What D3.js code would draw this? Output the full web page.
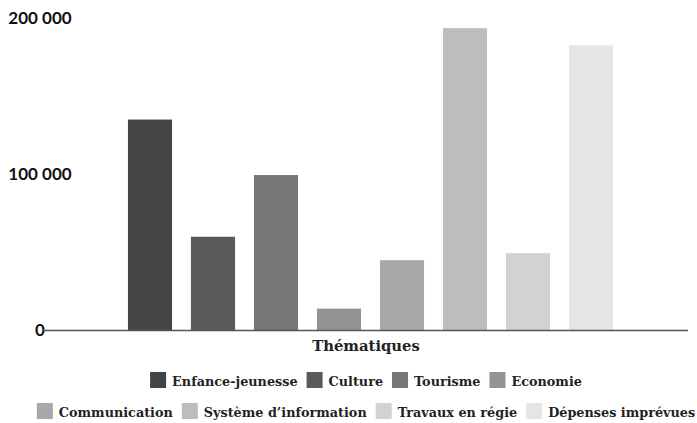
<!DOCTYPE html>
<html>
<head>
<meta charset="utf-8">
<script src="https://cdn.jsdelivr.net/npm/d3@7"></script>
<style>
  body { margin: 0; background: #fff; }
  .tick text { font-family: Lato, sans-serif; font-weight: 700; font-size: 17px; fill: #111; }
  .leg, .xtitle { font-family: "DejaVu Serif", serif; font-weight: 700; fill: #222; }
</style>
</head>
<body>
<script>
var categories = ["Enfance-jeunesse", "Culture", "Tourisme", "Economie",
                  "Communication", "Système d’information", "Travaux en régie", "Dépenses imprévues"];
var values = [135000, 60000, 99500, 14000, 45000, 193500, 49500, 182500];
var colors = ["#444446", "#59595b", "#767679", "#939396", "#a8a8ab", "#bcbdbf", "#d2d2d4", "#e4e5e7"];
var yTicks = [0, 100000, 200000];

var W = 697, H = 423;
var axisLeft = 43, axisRight = 688, legendCenter = 366;

var svg = d3.select("body").append("svg")
    .attr("width", W).attr("height", H);

var x = d3.scaleBand().domain(categories)
    .range([118.5, 622.5]).paddingInner(0.3).paddingOuter(0.15);
var y = d3.scaleLinear().domain([0, 200000]).range([330.5, 18]);

var fr = d3.formatLocale({decimal: ",", thousands: " ", grouping: [3], currency: ["", " €"]});
var fmt = fr.format(",d");

// y labels
var ya = svg.append("g")
    .attr("transform", "translate(40,0)")
    .call(d3.axisLeft(y).tickValues(yTicks).tickSize(0).tickFormat(fmt));
ya.select(".domain").remove();
ya.selectAll("text").attr("text-anchor", "middle").attr("x", 0);

// bars
svg.selectAll(".bar")
    .data(categories)
  .enter().append("rect")
    .attr("class", "bar")
    .attr("x", function(d) { return x(d); })
    .attr("width", x.bandwidth())
    .attr("y", function(d, i) { return y(values[i]); })
    .attr("height", function(d, i) { return y(0) - y(values[i]); })
    .attr("fill", function(d, i) { return colors[i]; });

// baseline
svg.append("line")
    .attr("x1", axisLeft).attr("x2", axisRight)
    .attr("y1", y(0)).attr("y2", y(0))
    .attr("stroke", "#555").attr("stroke-width", 1.5);

svg.append("text")
    .attr("class", "xtitle")
    .attr("x", legendCenter).attr("y", 351)
    .attr("text-anchor", "middle")
    .style("font-size", "14.8px")
    .text("Thématiques");

// legend, 2 rows of 4
var rows = [categories.slice(0, 4), categories.slice(4)];
var sq = 16, gapTxt = 6, gapItem = 9;
rows.forEach(function(row, r) {
  var g = svg.append("g");
  var cy = 380 + r * 31;
  var xpos = 0;
  row.forEach(function(name) {
    var i = categories.indexOf(name);
    g.append("rect")
        .attr("x", xpos).attr("y", cy - sq / 2)
        .attr("width", sq).attr("height", sq)
        .attr("fill", colors[i]);
    var t = g.append("text")
        .attr("class", "leg")
        .attr("x", xpos + sq + gapTxt).attr("y", cy + 5.5)
        .style("font-size", "12.8px")
        .text(name);
    xpos += sq + gapTxt + t.node().getComputedTextLength() + gapItem;
  });
  var total = xpos - gapItem;
  g.attr("transform", "translate(" + (legendCenter - total / 2) + ",0)");
});
</script>
</body>
</html>
